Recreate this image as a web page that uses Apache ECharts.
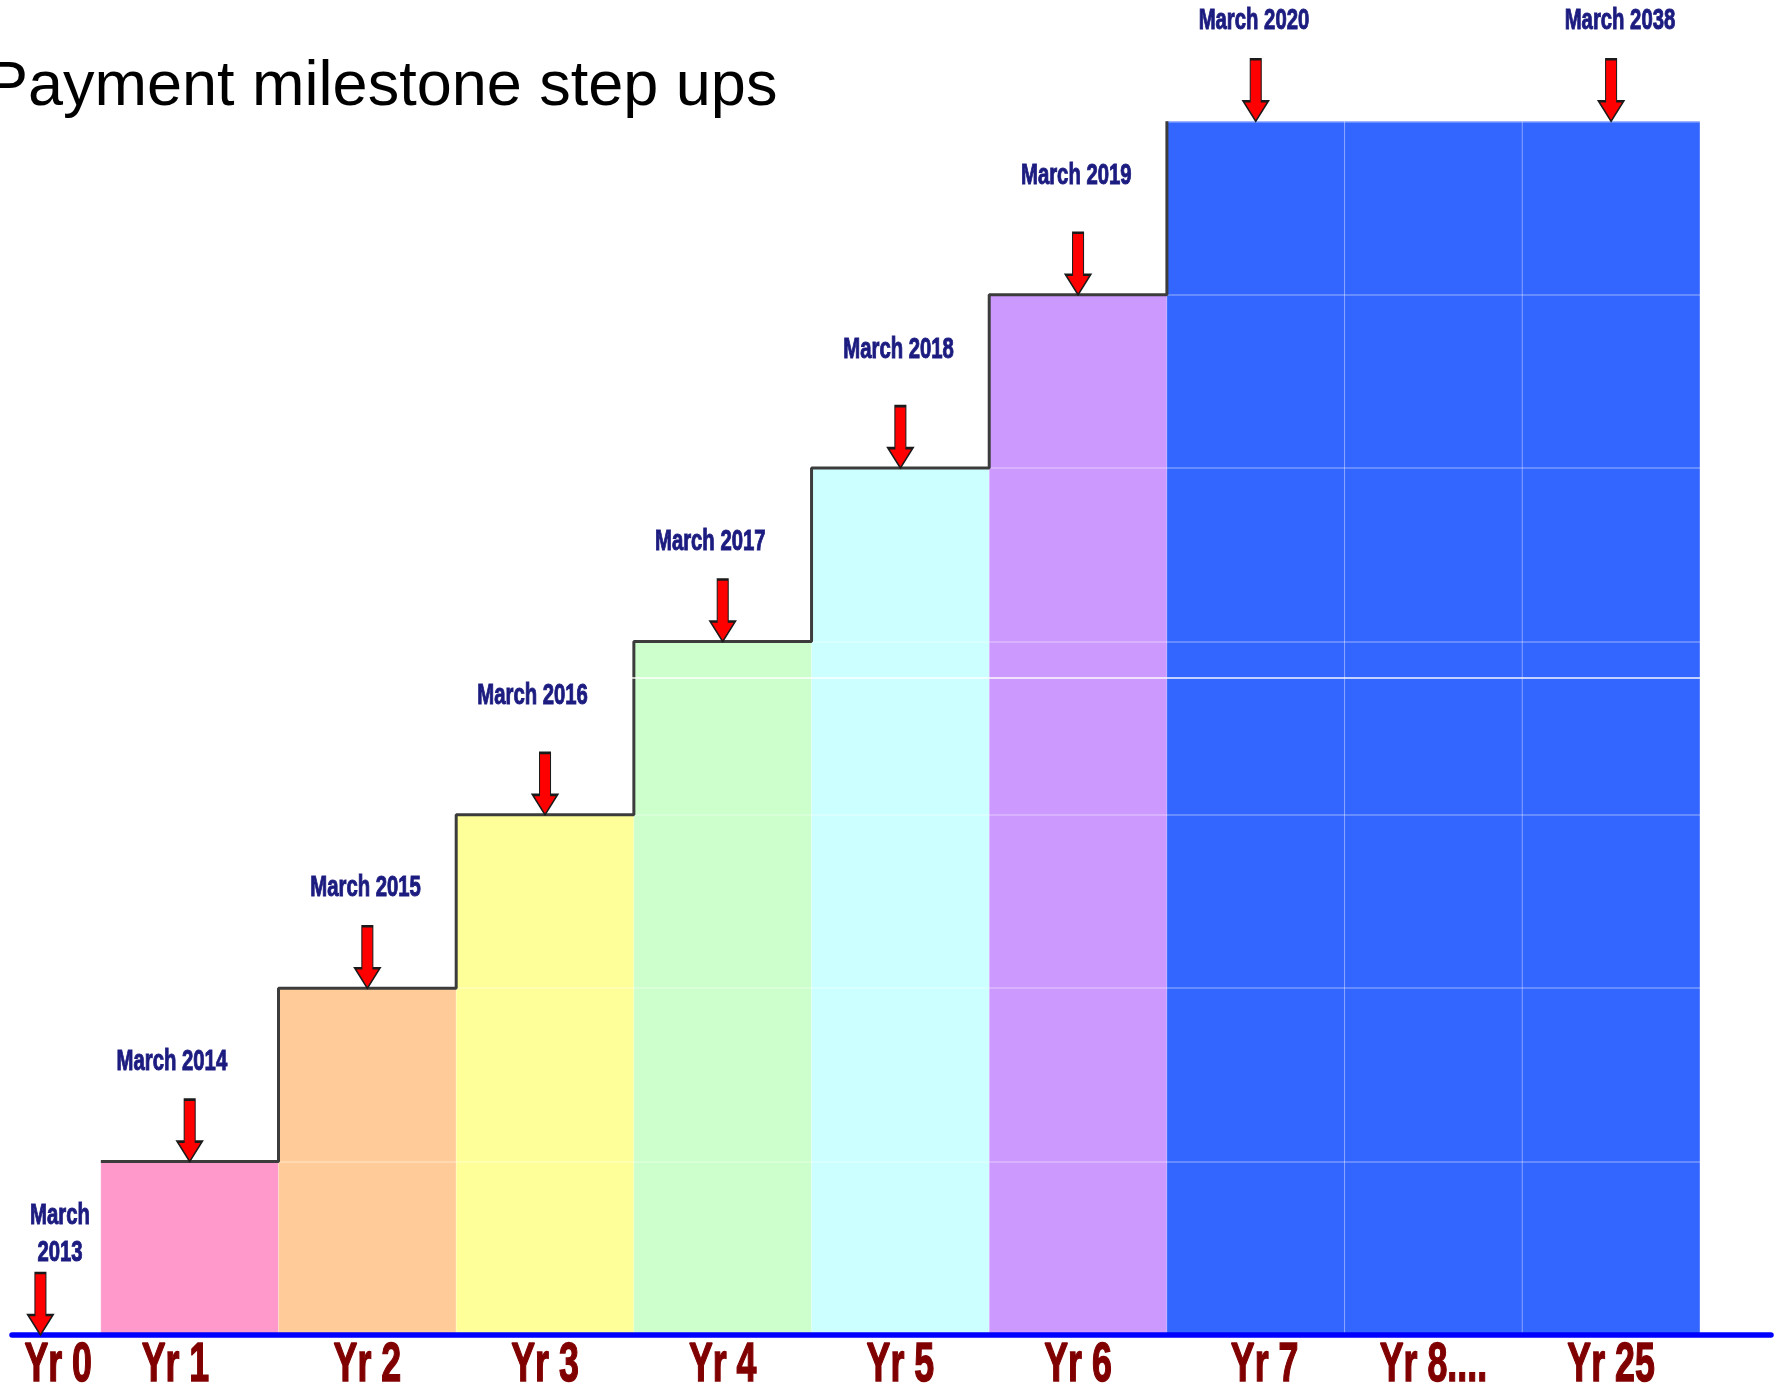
<!DOCTYPE html>
<html>
<head>
<meta charset="utf-8">
<script src="https://cdn.jsdelivr.net/npm/echarts@6/dist/echarts.min.js"></script>
<style>
html,body{margin:0;padding:0;background:#fff;}
#chart{width:1780px;height:1388px;}
</style>
</head>
<body>
<div id="chart"></div>
<script>
// ---- data ----
const titleText = 'Payment milestone step ups';
const categories = ['Yr 0', 'Yr 1', 'Yr 2', 'Yr 3', 'Yr 4', 'Yr 5', 'Yr 6', 'Yr 7', 'Yr 8....', 'Yr 25'];
const categoryX = [0.26, 0.92, 2, 3, 4, 5, 6, 7.05, 8, 9];
const barX = [1, 2, 3, 4, 5, 6, 7, 8, 9];
const stepValues = [1, 2, 3, 4, 5, 6, 7, 7, 7];
const milestoneText = ['March\n2013', 'March 2014', 'March 2015', 'March 2016', 'March 2017', 'March 2018', 'March 2019', 'March 2020', 'March 2038'];
const milestoneX = [0.16, 1, 2, 3, 4, 5, 6, 7, 9];
const milestoneLevel = [0, 1, 2, 3, 4, 5, 6, 7, 7];
const labelX = [0.27, 0.90, 1.99, 2.93, 3.93, 4.99, 5.99, 6.99, 9.05];
const labelLift = [0.58, 0.575, 0.58, 0.685, 0.576, 0.682, 0.684, 0.581, 0.581];
const artifactLine = 3.785;

// ---- styles ----
const palette = ['#FF99CC', '#FFCC99', '#FFFF99', '#CCFFCC', '#CCFFFF', '#CC99FF', '#3366FF', '#3366FF', '#3366FF'];
const FONT = "'Liberation Sans', Arial, sans-serif";

const chart = echarts.init(document.getElementById('chart'), null, {renderer: 'canvas'});

// step outline: left edge of each rising bar, up to the first top value
const stepLine = [];
for (let i = 0; i < stepValues.length; i++) {
  if (i > 0 && stepValues[i] <= stepValues[i - 1]) break;
  stepLine.push([barX[i] - 0.5, stepValues[i]]);
}

const option = {
  animation: false,
  backgroundColor: '#ffffff',
  title: {
    text: titleText,
    left: -14,
    top: 56,
    padding: 0,
    textStyle: {fontFamily: FONT, fontSize: 63, fontWeight: 'normal', color: '#000'}
  },
  grid: {left: 12, right: 9, top: 0, bottom: 53, containLabel: false},
  xAxis: {
    type: 'value', min: 0, max: 9.9, z: 3,
    axisLine: {show: true, lineStyle: {color: '#0000FF', width: 5.5}},
    axisTick: {show: false}, axisLabel: {show: false}, splitLine: {show: false}
  },
  yAxis: {
    type: 'value', min: 0, max: 7.7, interval: 1, z: 2,
    axisLine: {show: false}, axisTick: {show: false}, axisLabel: {show: false},
    splitLine: {show: true, lineStyle: {color: 'rgba(255,255,255,0.25)', width: 2}}
  },
  series: [
    {
      type: 'custom', z: 1, silent: true,
      data: barX.map((x, i) => [x, stepValues[i]]),
      renderItem: function (params, api) {
        const x = api.value(0), v = api.value(1);
        const p0 = api.coord([x - 0.5, v]);
        const p1 = api.coord([x + 0.5, 0]);
        return {
          type: 'rect',
          shape: {x: p0[0], y: p0[1], width: p1[0] - p0[0], height: p1[1] - p0[1]},
          style: {fill: palette[params.dataIndex], stroke: 'rgba(255,255,255,0.16)', lineWidth: 1.2}
        };
      }
    },
    {
      type: 'line', z: 3, silent: true, step: 'end',
      data: stepLine, symbol: 'none',
      lineStyle: {color: '#3c3c3c', width: 3},
      markLine: {
        silent: true, symbol: 'none', label: {show: false},
        lineStyle: {color: 'rgba(255,255,255,0.95)', width: 1.5, type: 'solid'},
        data: [{yAxis: artifactLine}]
      }
    },
    {
      type: 'scatter', z: 4, silent: true,
      data: milestoneX.map((x, i) => [x, milestoneLevel[i]]),
      symbol: 'path://M7,0 L18,0 L18,42 L25,42 L12.5,62 L0,42 L7,42 Z',
      symbolSize: [25, 62],
      symbolOffset: [0, -31],
      itemStyle: {color: '#FF0000', borderColor: '#1a1a1a', borderWidth: 1.6, opacity: 1}
    },
    {
      type: 'custom', z: 5, silent: true,
      data: labelX.map((x, i) => [x, milestoneLevel[i] + labelLift[i]]),
      renderItem: function (params, api) {
        const p = api.coord([api.value(0), api.value(1)]);
        return {
          type: 'text', x: p[0], y: p[1], scaleX: 0.70,
          style: {
            text: milestoneText[params.dataIndex], x: 0, y: 0,
            align: 'center', verticalAlign: 'middle', lineHeight: 37,
            font: 'bold 29px ' + FONT, fill: '#1c1c80',
            stroke: '#1c1c80', lineWidth: 1
          }
        };
      }
    },
    {
      type: 'custom', z: 5, silent: true,
      data: categoryX.map((x) => [x, 0]),
      renderItem: function (params, api) {
        const p = api.coord([api.value(0), 0]);
        return {
          type: 'text', x: p[0], y: p[1] + 31, scaleX: 0.65,
          style: {
            text: categories[params.dataIndex], x: 0, y: 0,
            align: 'center', verticalAlign: 'middle',
            font: 'bold 55px ' + FONT, fill: '#800000',
            stroke: '#800000', lineWidth: 1.5
          }
        };
      }
    }
  ]
};
chart.setOption(option);
</script>
</body>
</html>
